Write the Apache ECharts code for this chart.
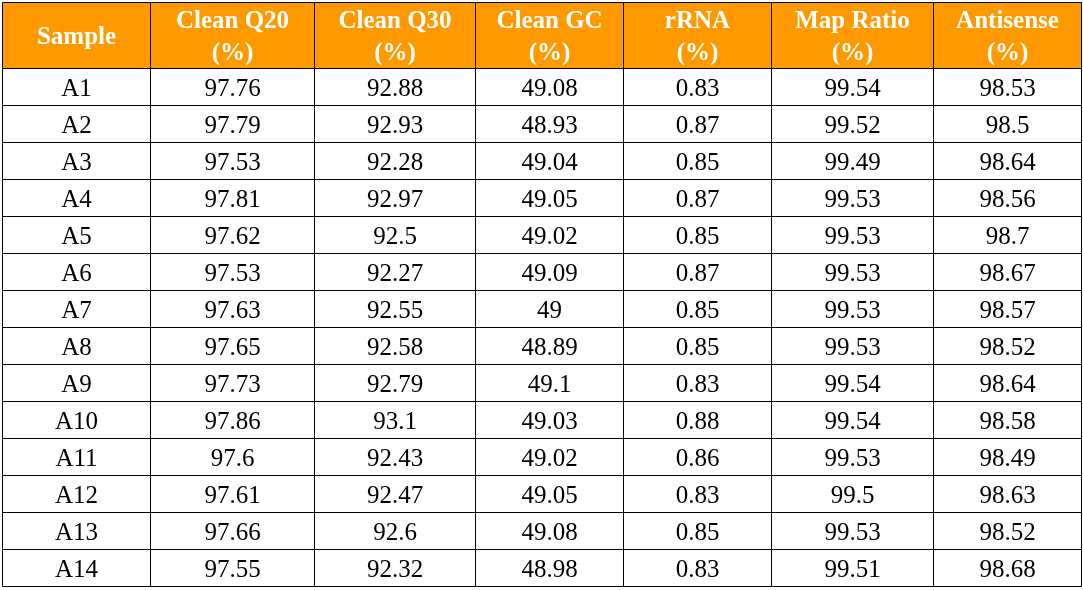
<!DOCTYPE html>
<html>
<head>
<meta charset="utf-8">
<script src="https://cdn.jsdelivr.net/npm/echarts@6/dist/echarts.min.js"></script>
<style>
html,body{margin:0;padding:0;background:#ffffff;}
#chart{width:1083px;height:590px;}
</style>
</head>
<body>
<div id="chart"></div>
<script>
// ---- data ----
var headers = ['Sample', 'Clean Q20\n(%)', 'Clean Q30\n(%)', 'Clean GC\n(%)', 'rRNA\n(%)', 'Map Ratio\n(%)', 'Antisense\n(%)'];
var samples = ['A1','A2','A3','A4','A5','A6','A7','A8','A9','A10','A11','A12','A13','A14'];
var cleanQ20 = [97.76, 97.79, 97.53, 97.81, 97.62, 97.53, 97.63, 97.65, 97.73, 97.86, 97.6, 97.61, 97.66, 97.55];
var cleanQ30 = [92.88, 92.93, 92.28, 92.97, 92.5, 92.27, 92.55, 92.58, 92.79, 93.1, 92.43, 92.47, 92.6, 92.32];
var cleanGC = [49.08, 48.93, 49.04, 49.05, 49.02, 49.09, 49, 48.89, 49.1, 49.03, 49.02, 49.05, 49.08, 48.98];
var rRNA = [0.83, 0.87, 0.85, 0.87, 0.85, 0.87, 0.85, 0.85, 0.83, 0.88, 0.86, 0.83, 0.85, 0.83];
var mapRatio = [99.54, 99.52, 99.49, 99.53, 99.53, 99.53, 99.53, 99.53, 99.54, 99.54, 99.53, 99.5, 99.53, 99.51];
var antisense = [98.53, 98.5, 98.64, 98.56, 98.7, 98.67, 98.57, 98.52, 98.64, 98.58, 98.49, 98.63, 98.52, 98.68];

// ---- layout (table units) ----
var colWidths = [148, 164, 161, 148, 148, 162, 148];
var headerHeight = 66;
var rowHeight = 37;

var colStart = [0];
colWidths.forEach(function (w, i) { colStart.push(colStart[i] + w); });
var totalW = colStart[colStart.length - 1];
var totalH = headerHeight + rowHeight * samples.length;

function rowTop(r) { return r === 0 ? 0 : headerHeight + (r - 1) * rowHeight; }
function rowBottom(r) { return r === 0 ? headerHeight : headerHeight + r * rowHeight; }

var columns = [samples, cleanQ20, cleanQ30, cleanGC, rRNA, mapRatio, antisense];
var cells = [];
headers.forEach(function (h, c) { cells.push([c, 0, h]); });
samples.forEach(function (s, r) {
  columns.forEach(function (col, c) { cells.push([c, r + 1, String(col[r])]); });
});

var chart = echarts.init(document.getElementById('chart'), null, {renderer: 'canvas'});
chart.setOption({
  backgroundColor: '#ffffff',
  animation: false,
  grid: {left: 2.5, top: 2.5, right: 1.5, bottom: 3.5},
  xAxis: {type: 'value', min: 0, max: totalW, show: false},
  yAxis: {type: 'value', min: 0, max: totalH, inverse: true, show: false},
  series: [{
    type: 'custom',
    coordinateSystem: 'cartesian2d',
    encode: {x: 0, y: 1},
    data: cells,
    renderItem: function (params, api) {
      var c = api.value(0), r = api.value(1);
      var txt = cells[params.dataIndex][2];
      var p0 = api.coord([colStart[c], rowTop(r)]);
      var p1 = api.coord([colStart[c + 1], rowBottom(r)]);
      var isHead = r === 0;
      return {
        type: 'group',
        children: [{
          type: 'rect',
          shape: {x: p0[0], y: p0[1], width: p1[0] - p0[0], height: p1[1] - p0[1]},
          style: {fill: isHead ? '#FF9900' : '#ffffff', stroke: '#000000', lineWidth: 1}
        }, {
          type: 'text',
          x: (p0[0] + p1[0]) / 2,
          y: (p0[1] + p1[1]) / 2 + 2,
          style: {
            text: txt,
            fill: isHead ? '#ffffff' : '#000000',
            font: (isHead ? 'bold ' : '') + '25px "Liberation Serif", "Times New Roman", serif',
            lineHeight: 32,
            align: 'center',
            verticalAlign: 'middle'
          }
        }]
      };
    }
  }]
});
</script>
</body>
</html>
